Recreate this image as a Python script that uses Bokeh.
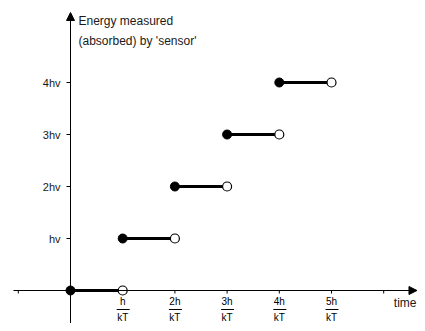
from bokeh.plotting import figure
from bokeh.models import Arrow, NormalHead, Range1d
from bokeh.core.properties import value
from bokeh.embed import file_html
from bokeh.resources import INLINE

# data (time in units of h/kT, energy in units of hv)
seg_start = [0, 1, 2, 3, 4]
seg_end = [1, 2, 3, 4, 5]
seg_level = [0, 1, 2, 3, 4]
y_ticks = [1, 2, 3, 4]
y_tick_labels = ["hv", "2hv", "3hv", "4hv"]
x_ticks = [1, 2, 3, 4, 5]
x_num_labels = ["h", "2h", "3h", "4h", "5h"]
x_den_labels = ["kT", "kT", "kT", "kT", "kT"]
x_minor_ticks = [-1, 1, 2, 3, 4, 5, 6]
y_title = ["Energy measured", "(absorbed) by 'sensor'"]
x_title = "time"

W, H = 417, 323
sx, sy = 52.2, 52.0
OX, OY = 70, 290  # pixel position of the origin
x0 = -OX / sx
x1 = x0 + W / sx
y1 = OY / sy
y0 = y1 - H / sy

p = figure(width=W, height=H, output_backend="svg", toolbar_location=None,
           x_range=Range1d(x0, x1), y_range=Range1d(y0, y1), min_border=0)
p.axis.visible = False
p.grid.visible = False
p.outline_line_color = None
p.background_fill_color = "white"

FONT = value("Liberation Sans")
ink = "#000000"
txt = "#1a1a1a"

# axes
p.add_layout(Arrow(end=NormalHead(size=8, fill_color=ink, line_color=ink, line_width=1),
                   x_start=-57 / sx, y_start=0, x_end=x1 - 0.01, y_end=0,
                   line_color=ink, line_width=1))
p.add_layout(Arrow(end=NormalHead(size=8, fill_color=ink, line_color=ink, line_width=1),
                   x_start=0, y_start=y0, x_end=0, y_end=(OY - 12) / sy,
                   line_color=ink, line_width=1))

# ticks
p.segment(x0=x_minor_ticks, y0=[0] * len(x_minor_ticks), x1=x_minor_ticks,
          y1=[-3 / sy] * len(x_minor_ticks), line_color=ink, line_width=1)
p.segment(x0=[-4 / sx] * len(y_ticks), y0=y_ticks, x1=[0] * len(y_ticks), y1=y_ticks,
          line_color=ink, line_width=1)

# y tick labels
p.text(x=[-10 / sx] * len(y_ticks), y=y_ticks, text=y_tick_labels, text_font=FONT,
       text_font_size="11px", text_align="right", text_baseline="middle", text_color=txt)

# x tick fraction labels
p.text(x=x_ticks, y=[-11 / sy] * 5, text=x_num_labels, text_font=FONT, text_font_size="10px",
       text_align="center", text_baseline="middle", text_color=ink)
p.segment(x0=[t - 6 / sx for t in x_ticks], y0=[-19 / sy] * 5,
          x1=[t + 7 / sx for t in x_ticks], y1=[-19 / sy] * 5, line_color=ink, line_width=1)
p.text(x=x_ticks, y=[-27 / sy] * 5, text=x_den_labels, text_font=FONT, text_font_size="10px",
       text_align="center", text_baseline="middle", text_color=ink)

# axis titles
p.text(x=[8 / sx] * 2, y=[(OY - 20) / sy, (OY - 40) / sy], text=y_title, text_font=FONT,
       text_font_size="12px", text_align="left", text_baseline="middle", text_color=txt)
p.text(x=[(416 - OX) / sx], y=[-12 / sy], text=[x_title], text_font=FONT,
       text_font_size="12px", text_align="right", text_baseline="middle", text_color=txt)

# step segments
p.segment(x0=seg_start, y0=seg_level, x1=seg_end, y1=seg_level, line_color=ink, line_width=3)
p.scatter(x=seg_end, y=seg_level, size=9, fill_color="white", line_color=ink, line_width=1.2)
p.scatter(x=seg_start, y=seg_level, size=9, fill_color=ink, line_color=ink)

open("out.html", "w").write(file_html(p, INLINE))
